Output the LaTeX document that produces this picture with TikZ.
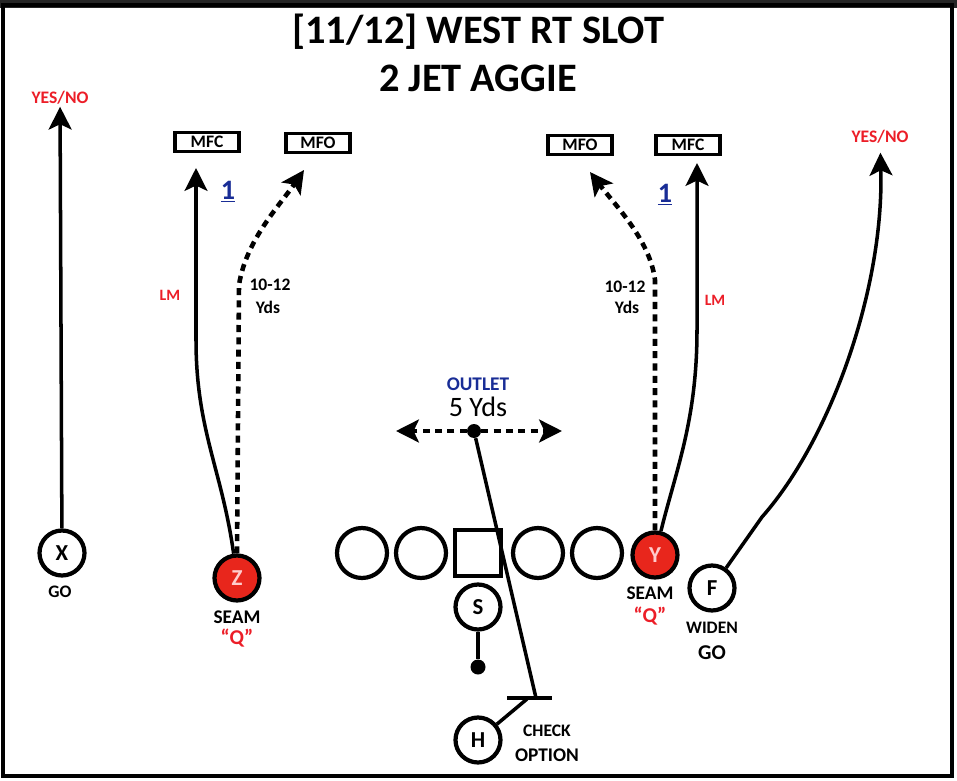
\documentclass[tikz,border=0pt]{standalone}
\usepackage{fontspec}
\setmainfont{Carlito}
\usetikzlibrary{arrows.meta}
\definecolor{hotred}{RGB}{232,38,28}
\definecolor{lblred}{RGB}{236,30,40}
\definecolor{numblue}{RGB}{25,45,150}

\begin{document}
\begin{tikzpicture}
		[x=0.02cm,y=-0.02cm,
		 plyr/.style={circle,draw=black,line width=2.4pt,minimum size=0.9cm,inner sep=0pt,font=\bfseries\fontsize{13}{13}\selectfont},
		 hot/.style={plyr,fill=hotred,text=white!80!red},
		 oline/.style={circle,draw=black,line width=2.4pt,minimum size=1cm,inner sep=0pt},
		 ctr/.style={rectangle,draw=black,line width=2.4pt,minimum size=0.92cm,inner sep=0pt},
		 zone/.style={rectangle,draw=black,line width=1.8pt,minimum width=1.28cm,minimum height=0.38cm,inner sep=1pt,font=\bfseries\fontsize{10}{10}\selectfont},
		 tag/.style={font=\bfseries\fontsize{10}{11}\selectfont,inner sep=1pt},
		 redtag/.style={tag,text=lblred},
		 bluetag/.style={tag,text=numblue},
		 dot/.style={circle,fill=black,inner sep=0pt},
		 route/.style={line width=2pt,-{Stealth[length=13pt,width=13pt,inset=3pt]}},
		 opt/.style={route,line width=2.6pt,dash pattern=on 4pt off 3pt}]

		% frame
		\useasboundingbox (0,0) rectangle (957,781);
		\fill[black!85] (0,0) rectangle (957,8);
		\draw[line width=2pt] (3,5) rectangle (952,776);

		% title
		\node[font=\bfseries\fontsize{23}{28}\selectfont] (title) at (478,32) {[11/12] WEST RT SLOT};
		\node[font=\bfseries\fontsize{23}{28}\selectfont] (sub) at (478,78) {2 JET AGGIE};

		% zones
		\node[zone] (lmfc) at (207,142) {MFC};
		\node[zone] (lmfo) at (318,143) {MFO};
		\node[zone] (rmfo) at (580,145) {MFO};
		\node[zone] (rmfc) at (688,145) {MFC};
		\node[redtag] (xyes) at (60,98) {YES/NO};
		\node[redtag] (fyes) at (880,137) {YES/NO};

		% line
		\node[oline] (lt) at (362,553) {};
		\node[oline] (lg) at (421,553) {};
		\node[ctr] (ctr) at (478,553) {};
		\node[oline] (rg) at (538,553) {};
		\node[oline] (rt) at (597,553) {};

		% skill players
		\node[plyr] (X) at (62,553) {X};
		\node[hot] (Z) at (237,578) {Z};
		\node[hot] (Y) at (655,555) {Y};
		\node[plyr] (F) at (712,588) {F};
		\node[plyr] (S) at (478,607) {S};
		\node[plyr] (H) at (478,740) {H};
		\node[dot,minimum size=0.3cm] (sdot) at (478,667) {};
		\node[dot,minimum size=0.28cm] (odot) at (474,431) {};

		% labels
		\node[tag] (xgo) at (60,592) {GO};
		\node[tag,font=\bfseries\fontsize{11}{12}\selectfont] (zseam) at (237,617) {SEAM};
		\node[redtag,font=\bfseries\fontsize{12}{12}\selectfont] (zq) at (237,638) {“Q”};
		\node[tag,font=\bfseries\fontsize{11}{12}\selectfont] (yseam) at (650,593) {SEAM};
		\node[redtag,font=\bfseries\fontsize{12}{12}\selectfont] (yq) at (650,616) {“Q”};
		\node[tag] (fwiden) at (712,628) {WIDEN};
		\node[tag,font=\bfseries\fontsize{12}{13}\selectfont] (fgo) at (712,653) {GO};
		\node[tag] (hcheck) at (547,731) {CHECK};
		\node[tag,font=\bfseries\fontsize{11}{12}\selectfont] (hopt) at (547,755) {OPTION};
		\node[bluetag,font=\bfseries\fontsize{11}{12}\selectfont] (outlet) at (478,384) {OUTLET};
		\node[font=\fontsize{16}{17}\selectfont,inner sep=1pt] (oyds) at (478,407) {5 Yds};
		\node[tag] (zdep) at (270,285) {10-12};
		\node[tag] (zyds) at (268,307) {Yds};
		\node[tag] (ydep) at (625,287) {10-12};
		\node[tag] (yyds) at (627,307) {Yds};
		\node[redtag,font=\bfseries\fontsize{9}{10}\selectfont] (zlm) at (170,295) {LM};
		\node[redtag,font=\bfseries\fontsize{9}{10}\selectfont] (ylm) at (715,300) {LM};
		\node[bluetag,font=\bfseries\fontsize{16}{17}\selectfont] (zone1) at (228,192) {\underline{1}};
		\node[bluetag,font=\bfseries\fontsize{16}{17}\selectfont] (yone1) at (665,195) {\underline{1}};

		% route ends
		\coordinate (ztip) at (196,168);
		\coordinate (zotip) at (304,170);
		\coordinate (ytip) at (697,163);
		\coordinate (yotip) at (590,172);
		\coordinate (fbrk) at (762,517);
		\coordinate (oleft) at (396,431);
		\coordinate (oright) at (562,431);
		\coordinate (hbar) at (536,698);
		\coordinate (hjoin) at (527,699);
		\coordinate (barl) at (507,698);
		\coordinate (barr) at (552,698);

		% routes
		\draw[route] (X) -- (xyes);
		\draw[route] (Z) .. controls (222,470) and (196,430) .. (196,340) -- (ztip);
		\draw[opt] (Z.north) -- (239,285) .. controls (246,240) and (280,205) .. (zotip);
		\draw[route] (Y) .. controls (676,470) and (697,420) .. (697,330) -- (ytip);
		\draw[opt] (Y.north) -- (655,280) .. controls (650,240) and (615,205) .. (yotip);
		\draw[route,shorten >=4pt] (F) -- (fbrk) .. controls (830,440) and (884,290) .. (fyes);
		\draw[opt,line width=2.3pt] (odot) -- (oleft);
		\draw[opt,line width=2.3pt] (odot) -- (oright);
		\draw[line width=2pt] (odot) -- (hbar);
		\draw[line width=2pt] (barl) -- (barr);
		\draw[line width=2pt] (H) -- (hjoin);
		\draw[line width=2pt] (S) -- (sdot);

	\end{tikzpicture}
\end{document}
